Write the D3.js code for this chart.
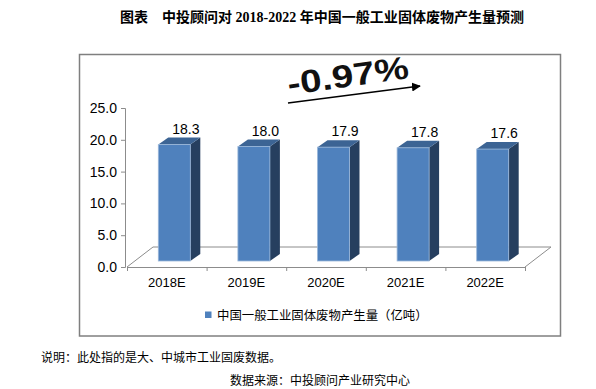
<!DOCTYPE html>
<html><head><meta charset="utf-8">
<script src="https://cdn.jsdelivr.net/npm/d3@7"></script>
<style>body{margin:0;background:#fff}</style>
</head><body>
<script>
const categories = ["2018E","2019E","2020E","2021E","2022E"];
const values = [18.3,18.0,17.9,17.8,17.6];
const yTicks = [0,5,10,15,20,25];
const seriesName = "中国一般工业固体废物产生量（亿吨）";
const titleLead = "图表";
const titleMain = "中投顾问对 2018-2022 年中国一般工业固体废物产生量预测";
const growthLabel = "-0.97%";
const note = "说明：此处指的是大、中城市工业固废数据。";
const source = "数据来源：中投顾问产业研究中心";

const W = 596, H = 389;
const svg = d3.select("body").append("svg").attr("width", W).attr("height", H);
const sans = "Liberation Sans, Arial, sans-serif";
const cjk = "'Noto Sans CJK SC', sans-serif";

// title
svg.append("text").attr("x",120).attr("y",22).attr("font-family","'Liberation Serif', 'Noto Sans CJK SC', serif")
  .attr("font-weight","bold").attr("font-size",14).attr("fill","#000").text(titleLead);
svg.append("text").attr("x",162).attr("y",22).attr("font-family","'Liberation Serif', 'Noto Sans CJK SC', serif")
  .attr("font-weight","bold").attr("font-size",14).attr("fill","#000")
  .attr("textLength",362).attr("lengthAdjust","spacingAndGlyphs").text(titleMain);

// chart box
svg.append("rect").attr("x",79.5).attr("y",54.5).attr("width",481).attr("height",281.5)
  .attr("fill","#fff").attr("stroke","#7f7f7f").attr("stroke-width",1.5);

// scales
const y = d3.scaleLinear().domain([0,25]).range([267,108]);
const x = d3.scaleBand().domain(categories).range([127,525]).paddingInner(0).paddingOuter(0);
const depthX = 26, depthY = -20; // floor depth
const barW = 32, bdx = 10, bdy = -7;

// floor
const fx0 = x.range()[0], fx1 = x.range()[1], fy = y(0);
svg.append("path")
  .attr("d", `M${fx0},${fy} L${fx0+depthX},${fy+depthY} L${fx1+depthX},${fy+depthY} L${fx1},${fy}`)
  .attr("fill","none").attr("stroke","#8c8c8c").attr("stroke-width",1);

// y axis
const yAxis = d3.axisLeft(y).tickValues(yTicks).tickFormat(d3.format(".1f")).tickSize(4).tickPadding(4);
const gy = svg.append("g").attr("transform","translate(125,0)").call(yAxis);
gy.select(".domain").attr("stroke","#8c8c8c");
gy.selectAll(".tick line").attr("stroke","#8c8c8c");
gy.selectAll(".tick text").attr("font-family",sans).attr("font-size",14).attr("fill","#000");

// x axis (front floor edge) with ticks at category boundaries
const bounds = categories.map(c => x(c)).concat([fx1]);
const xb = d3.scaleLinear().domain([fx0,fx1]).range([fx0,fx1]);
const gx = svg.append("g").attr("transform",`translate(0,${fy})`)
  .call(d3.axisBottom(xb).tickValues(bounds).tickFormat("").tickSize(4).tickSizeOuter(0));
gx.select(".domain").attr("stroke","#8c8c8c");
gx.selectAll(".tick line").attr("stroke","#8c8c8c");
svg.append("g").selectAll("text").data(categories).join("text")
  .attr("x", d => x(d) + x.bandwidth()/2).attr("y", 287)
  .attr("text-anchor","middle").attr("font-family",sans).attr("font-size",13).attr("fill","#000")
  .text(d => d);

// bars
const bars = svg.append("g").selectAll("g").data(categories.map((c,i)=>({c, v: values[i]}))).join("g");
bars.each(function(d){
  const g = d3.select(this);
  const x0 = x(d.c) + x.bandwidth()/2 + 7.5 - barW/2;
  const yt = y(d.v) - 6, yb = y(0) - 6;
  // side
  g.append("path").attr("d",`M${x0+barW},${yt} L${x0+barW+bdx},${yt+bdy} L${x0+barW+bdx},${yb+bdy} L${x0+barW},${yb}Z`)
    .attr("fill","#263f5f");
  // top
  g.append("path").attr("d",`M${x0},${yt} L${x0+bdx},${yt+bdy} L${x0+barW+bdx},${yt+bdy} L${x0+barW},${yt}Z`)
    .attr("fill","#3c6494");
  // front
  g.append("rect").attr("x",x0).attr("y",yt).attr("width",barW).attr("height",yb-yt)
    .attr("fill","#4f81bd").attr("stroke","#9ab7da").attr("stroke-width",0.8);
  // label
  g.append("text").attr("x", x(d.c) + x.bandwidth()/2 + 19).attr("y", yt - 11)
    .attr("text-anchor","middle").attr("font-family",sans).attr("font-size",14).attr("fill","#000")
    .text(d3.format(".1f")(d.v));
});

// growth annotation
const defs = svg.append("defs");
defs.append("marker").attr("id","ah").attr("viewBox","0 0 10 10").attr("refX",9).attr("refY",5)
  .attr("markerWidth",6).attr("markerHeight",6).attr("orient","auto")
  .append("path").attr("d","M0,0 L10,5 L0,10Z").attr("fill","#000");
svg.append("line").attr("x1",288).attr("y1",103).attr("x2",420).attr("y2",86)
  .attr("stroke","#000").attr("stroke-width",1.5).attr("marker-end","url(#ah)");
svg.append("text").attr("transform","translate(289,95) rotate(-8)")
  .attr("font-family",sans).attr("font-weight","bold").attr("font-size",32).attr("fill","#111")
  .attr("textLength",122).attr("lengthAdjust","spacingAndGlyphs").text(growthLabel);

// legend
svg.append("rect").attr("x",205).attr("y",311.5).attr("width",6.5).attr("height",6.5).attr("fill","#4f81bd");
svg.append("text").attr("x",217).attr("y",319.5).attr("font-family",cjk).attr("font-size",12.4).attr("fill","#000")
  .text(seriesName);

// notes
svg.append("text").attr("x",41).attr("y",362).attr("font-family",cjk).attr("font-size",12).attr("fill","#000").text(note);
svg.append("text").attr("x",230).attr("y",385).attr("font-family",cjk).attr("font-size",12).attr("fill","#000").text(source);
</script>
</body></html>
